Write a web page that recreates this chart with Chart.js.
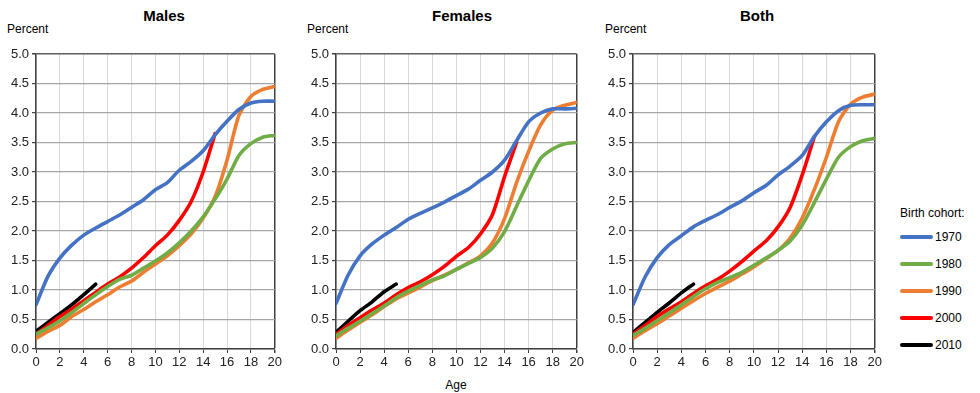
<!DOCTYPE html>
<html>
<head>
<meta charset="utf-8">
<script src="https://cdn.jsdelivr.net/npm/chart.js@4.4.1/dist/chart.umd.min.js"></script>
<style>
  html, body { margin: 0; padding: 0; background: #fff; }
  body { width: 980px; height: 393px; position: relative; overflow: hidden; font-family: "Liberation Sans", Arial, sans-serif; color: #000; }
  .box { position: absolute; top: 40px; height: 335px; }
  .title { position: absolute; top: 7px; font-weight: bold; font-size: 15px; transform: translateX(-50%); }
  .unit { position: absolute; top: 22px; font-size: 12px; }
  .xlab { position: absolute; top: 378px; font-size: 12px; transform: translateX(-50%); }
  #legend { position: absolute; left: 900px; top: 206px; font-size: 12px; }
  #legend .head { margin-bottom: 3px; }
  #legend .row { display: flex; align-items: center; height: 27px; }
  #legend .sw { width: 33px; height: 4px; margin-right: 2px; border-radius: 2px; }
</style>
</head>
<body>
<div class="title" style="left:164px">Males</div>
<div class="title" style="left:462px">Females</div>
<div class="title" style="left:757px">Both</div>
<div class="unit" style="left:7px">Percent</div>
<div class="unit" style="left:307px">Percent</div>
<div class="unit" style="left:605px">Percent</div>
<div class="xlab" style="left:456px">Age</div>
<div class="box" style="left:0px;width:284px"><canvas id="c0"></canvas></div>
<div class="box" style="left:300px;width:286px"><canvas id="c1"></canvas></div>
<div class="box" style="left:597px;width:287px"><canvas id="c2"></canvas></div>
<div id="legend"></div>
<script>
// ---- data ----
const ages = [0,1,2,3,4,5,6,7,8,9,10,11,12,13,14,15,16,17,18,19,20];
const cohorts = ["1970","1980","1990","2000","2010"];
const cohortColors = ["#4472C4","#70AD47","#ED7D31","#FF0000","#000000"];
const yTicks = [0,0.5,1,1.5,2,2.5,3,3.5,4,4.5,5];
const xTicks = [0,2,4,6,8,10,12,14,16,18,20];
const panelTitles = ["Males","Females","Both"];

const males1970 = [0.75,1.23,1.54,1.76,1.93,2.05,2.16,2.27,2.40,2.53,2.70,2.82,3.03,3.18,3.36,3.63,3.86,4.06,4.17,4.20,4.20];
const males1980 = [0.25,0.36,0.48,0.62,0.77,0.92,1.06,1.18,1.25,1.37,1.49,1.63,1.80,2.00,2.24,2.54,2.88,3.28,3.48,3.59,3.62];
const males1990 = [0.18,0.30,0.40,0.55,0.67,0.80,0.92,1.05,1.15,1.30,1.44,1.58,1.75,1.95,2.22,2.58,3.20,3.96,4.28,4.40,4.45];
const males2000 = [0.25,0.40,0.55,0.68,0.82,0.96,1.10,1.22,1.37,1.55,1.75,1.93,2.18,2.50,3.00,3.65];
const males2010 = [0.30,0.45,0.60,0.75,0.92,1.10];

const females1970 = [0.77,1.25,1.58,1.78,1.93,2.06,2.20,2.30,2.39,2.49,2.60,2.71,2.86,3.00,3.20,3.53,3.85,4.00,4.07,4.07,4.08];
const females1980 = [0.22,0.35,0.47,0.60,0.73,0.87,0.98,1.08,1.17,1.24,1.35,1.45,1.55,1.71,1.99,2.42,2.85,3.23,3.39,3.48,3.50];
const females1990 = [0.18,0.32,0.45,0.58,0.72,0.85,0.95,1.05,1.16,1.25,1.35,1.46,1.58,1.80,2.21,2.82,3.35,3.80,4.05,4.13,4.18];
const females2000 = [0.25,0.40,0.53,0.66,0.78,0.92,1.04,1.14,1.26,1.40,1.57,1.72,1.95,2.28,2.92,3.50];
const females2010 = [0.28,0.47,0.65,0.80,0.97,1.10];

const both1970 = [0.75,1.22,1.55,1.77,1.92,2.07,2.18,2.28,2.40,2.51,2.65,2.77,2.95,3.10,3.28,3.60,3.85,4.04,4.13,4.14,4.14];
const both1980 = [0.23,0.35,0.48,0.61,0.75,0.89,1.02,1.13,1.21,1.30,1.42,1.54,1.67,1.83,2.10,2.48,2.88,3.25,3.43,3.53,3.57];
const both1990 = [0.18,0.31,0.43,0.56,0.69,0.82,0.94,1.05,1.15,1.27,1.39,1.53,1.67,1.88,2.22,2.70,3.25,3.85,4.15,4.27,4.32];
const both2000 = [0.25,0.40,0.55,0.68,0.80,0.94,1.07,1.18,1.32,1.48,1.66,1.83,2.07,2.40,2.95,3.60];
const both2010 = [0.28,0.45,0.62,0.78,0.95,1.10];

const panels = [
  [males1970, males1980, males1990, males2000, males2010],
  [females1970, females1980, females1990, females2000, females2010],
  [both1970, both1980, both1990, both2000, both2010]
];

// ---- drawing ----
const FONT = { family: "'Liberation Sans', Arial, sans-serif", size: 13 };

panels.forEach((series, pi) => {
  const datasets = series.map((vals, si) => ({
    label: cohorts[si],
    data: vals.map((v, i) => ({ x: ages[i], y: v })),
    borderColor: cohortColors[si],
    backgroundColor: cohortColors[si],
    borderWidth: 3.6,
    pointRadius: 0,
    tension: 0.25,
    fill: false,
    borderCapStyle: 'round',
    order: si
  }));
  datasets.reverse();
  new Chart(document.getElementById('c' + pi), {
    type: 'line',
    data: { datasets },
    options: {
      responsive: true,
      maintainAspectRatio: false,
      animation: false,
      layout: { padding: { top: 14, right: 6, left: 0, bottom: 0 } },
      plugins: { legend: { display: false }, tooltip: { enabled: false }, title: { display: false } },
      scales: {
        x: {
          type: 'linear', min: 0, max: 20,
          afterFit: s => { s.height = 26; },
          afterBuildTicks: s => { s.ticks = xTicks.map(v => ({ value: v })); },
          ticks: { color: '#222', font: FONT, padding: 2, maxRotation: 0, autoSkip: false },
          grid: {
            color: ctx => (ctx.tick && ctx.tick.value === 20) ? '#404040' : '#d9d9d9',
            lineWidth: ctx => (ctx.tick && ctx.tick.value === 20) ? 1.5 : 1,
            tickColor: '#404040', tickLength: 4
          },
          border: { color: '#404040', width: 1.5 }
        },
        y: {
          type: 'linear', min: 0, max: 5,
          afterFit: s => { s.width = 36; },
          afterBuildTicks: s => { s.ticks = yTicks.map(v => ({ value: v })); },
          ticks: { color: '#222', font: FONT, padding: 3, callback: v => Number(v).toFixed(1) },
          grid: {
            color: ctx => (ctx.tick && ctx.tick.value === 5) ? '#606060' : '#a6a6a6',
            lineWidth: ctx => (ctx.tick && ctx.tick.value === 5) ? 1.5 : 1.2,
            tickColor: '#404040', tickLength: 4
          },
          border: { color: '#404040', width: 1.5 }
        }
      }
    }
  });
});

// legend
const lg = document.getElementById('legend');
lg.innerHTML = '<div class="head">Birth cohort:</div>' + cohorts.map((c, i) =>
  '<div class="row"><div class="sw" style="background:' + cohortColors[i] + '"></div>' + c + '</div>').join('');
</script>
</body>
</html>
